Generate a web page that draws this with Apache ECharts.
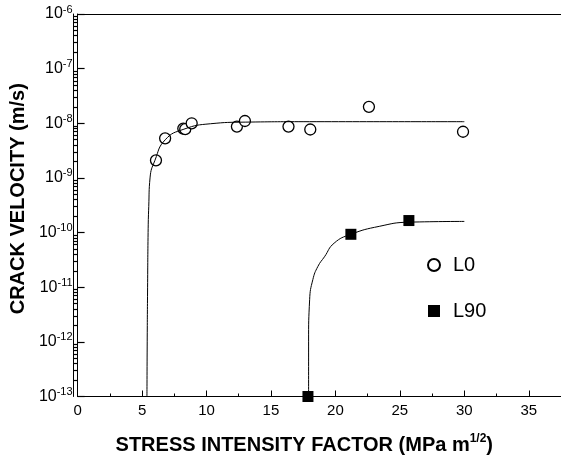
<!DOCTYPE html>
<html>
<head>
<meta charset="utf-8">
<script src="https://cdn.jsdelivr.net/npm/echarts@6/dist/echarts.min.js"></script>
<style>
html, body { margin: 0; padding: 0; background: #fff; }
#chart { width: 561px; height: 460px; }
</style>
</head>
<body>
<div id="chart"></div>
<script>
// measured points, K in MPa m^1/2, v in m/s
var l0K = [6.08, 6.79, 8.2, 8.35, 8.85, 12.36, 12.98, 16.36, 18.05, 22.6, 29.9];
var l0V = [2.1e-9, 5.3e-9, 8.0e-9, 7.8e-9, 1.0e-8, 8.7e-9, 1.1e-8, 8.7e-9, 7.7e-9, 2.0e-8, 7.0e-9];
var l90K = [17.87, 21.2, 25.7];
var l90V = [1e-13, 9.3e-11, 1.66e-10];

// fitted curves
var fitL0K = [5.38, 5.4, 5.43, 5.47, 5.52, 5.62, 6.0, 6.8, 8.25, 10.3, 13, 18, 30];
var fitL0V = [1e-13, 1e-12, 1e-11, 1e-10, 3e-10, 1e-9, 2.1e-9, 5e-9, 7.8e-9, 9.8e-9, 1.05e-8, 1.07e-8, 1.07e-8];
var fitL90K = [17.92, 17.92, 18.0, 18.25, 18.64, 19.15, 19.9, 21.2, 23.4, 25.7, 30];
var fitL90V = [1e-13, 1e-12, 5.9e-12, 1.38e-11, 2.4e-11, 3.6e-11, 6.4e-11, 9.3e-11, 1.3e-10, 1.55e-10, 1.6e-10];

var xTicks = [0, 5, 10, 15, 20, 25, 30, 35];
var yDecades = [-13, -12, -11, -10, -9, -8, -7, -6];

function zip(a, b) {
  return a.map(function(v, i) { return [v, b[i]]; });
}
// minor log ticks 2..9 in each decade, as exponents for the overlay axis
var minorVals = [];
yDecades.slice(0, -1).forEach(function(e) {
  for (var m = 2; m <= 9; m++) minorVals.push(e + Math.log10(m));
});

var font = "Liberation Sans, Arial, sans-serif";
var plotW = 487.5;
var chart = echarts.init(document.getElementById("chart"));

chart.setOption({
  animation: false,
  backgroundColor: "#fff",
  grid: { left: 76, top: 14, width: plotW, height: 383 },
  legend: {
    orient: "vertical",
    left: 422,
    top: 250,
    itemGap: 26,
    itemWidth: 12,
    itemHeight: 12,
    data: ["L0", "L90"],
    textStyle: { fontFamily: font, fontSize: 20, color: "#000", padding: [0, 0, 0, 8] }
  },
  xAxis: [
    {
      type: "value",
      min: 0,
      max: 37.5,
      interval: 5,
      name: "{t|STRESS INTENSITY FACTOR (MPa m}{s|1/2}{t|)}",
      nameLocation: "middle",
      nameGap: 36,
      nameTextStyle: {
        padding: [0, 30, 0, 0],
        rich: {
          t: { fontFamily: font, fontSize: 20, fontWeight: "bold", color: "#000" },
          s: { fontFamily: font, fontSize: 12, fontWeight: "bold", color: "#000", padding: [0, 0, 13, 0] }
        }
      },
      axisLine: { lineStyle: { color: "#000", width: 1 } },
      axisTick: { show: true, inside: true, length: 6, lineStyle: { color: "#000" } },
      minorTick: { show: true, splitNumber: 2, length: 3, lineStyle: { color: "#000" } },
      splitLine: { show: false },
      axisLabel: {
        customValues: xTicks,
        fontFamily: font, fontSize: 15, color: "#000", margin: 7
      }
    },
    {
      type: "value",
      position: "top",
      min: 0,
      max: 37.5,
      axisLine: { show: true, lineStyle: { color: "#000", width: 1 } },
      axisTick: { show: false },
      axisLabel: { show: false },
      splitLine: { show: false }
    }
  ],
  yAxis: [
    {
      type: "log",
      logBase: 10,
      min: 1e-13,
      max: 1e-6,
      interval: 1,
      position: "left",
      name: "CRACK VELOCITY (m/s)",
      nameLocation: "middle",
      nameRotate: 90,
      nameGap: 39,
      nameTextStyle: { fontFamily: font, fontSize: 20, fontWeight: "bold", color: "#000", padding: [0, 0, 0, 13] },
      axisLine: { show: true, onZero: false, lineStyle: { color: "#000", width: 1 } },
      axisTick: { show: true, inside: true, length: 7, lineStyle: { color: "#000", width: 1.2 } },
      splitLine: { show: false },
      axisLabel: {
        margin: 5,
        formatter: function(v) {
          return "{b|10}{s|" + Math.round(Math.log10(v)) + "}";
        },
        rich: {
          b: { fontFamily: font, fontSize: 16, color: "#000" },
          s: { fontFamily: font, fontSize: 11, color: "#000", padding: [0, 0, 9, 0] }
        }
      }
    },
    {
      // overlay in exponent units, only carries the minor log ticks;
      // sits on the right slot, pulled back onto the left edge
      type: "value",
      min: -13,
      max: -6,
      position: "right",
      offset: -plotW,
      axisLine: { show: true, onZero: false, lineStyle: { color: "#000", width: 1 } },
      axisLabel: { show: false },
      splitLine: { show: false },
      axisTick: {
        show: true,
        inside: false,
        length: 4,
        customValues: minorVals,
        lineStyle: { color: "#000", width: 1.2 }
      }
    }
  ],
  series: [
    {
      type: "line",
      data: zip(fitL0K, fitL0V),
      smooth: 0.5,
      showSymbol: false,
      silent: true,
      lineStyle: { color: "#000", width: 1 }
    },
    {
      type: "line",
      data: zip(fitL90K, fitL90V),
      smooth: 0.5,
      showSymbol: false,
      silent: true,
      lineStyle: { color: "#000", width: 1 }
    },
    {
      name: "L0",
      type: "scatter",
      data: zip(l0K, l0V),
      symbol: "circle",
      symbolSize: 11,
      clip: false,
      itemStyle: { color: "#fff", opacity: 1, borderColor: "#000", borderWidth: 1.3 }
    },
    {
      name: "L90",
      type: "scatter",
      data: zip(l90K, l90V),
      symbol: "rect",
      symbolSize: 11,
      clip: false,
      itemStyle: { color: "#000", opacity: 1 }
    }
  ]
});
</script>
</body>
</html>
